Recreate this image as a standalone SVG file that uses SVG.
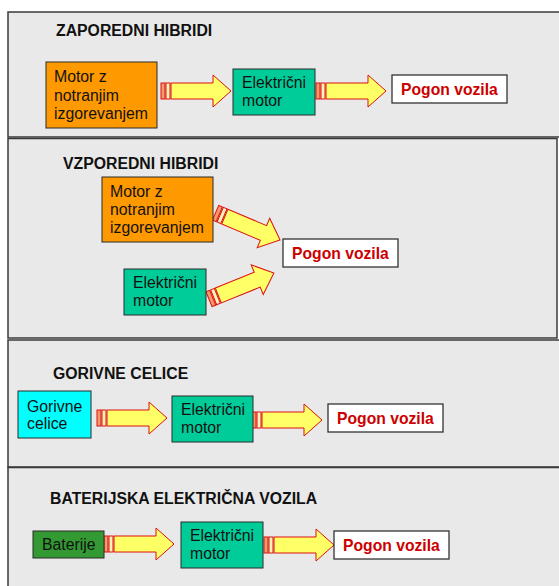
<svg xmlns="http://www.w3.org/2000/svg" xmlns:xlink="http://www.w3.org/1999/xlink" width="559" height="586" viewBox="0 0 559 586">
<style>
.panel{fill:#E9E9E9;stroke:#3a3a3a;stroke-width:1.5}
.box{stroke:#2a2a2a;stroke-width:1}
.t{font-family:"Liberation Sans",Arial,sans-serif;font-size:15.8px;fill:#111}
.title{font-family:"Liberation Sans",Arial,sans-serif;font-size:15.8px;font-weight:bold;fill:#111}
.pv{font-family:"Liberation Sans",Arial,sans-serif;font-size:15.7px;font-weight:bold;fill:#CC0000}
.pbox{fill:#fff;stroke:#333;stroke-width:1.3}
.ab{fill:#FFFF66;stroke:#DD1111;stroke-width:1}
.s1{fill:#F49A6A;stroke:#DD1111;stroke-width:1}
.s2{fill:#FFF3B8;stroke:#DD1111;stroke-width:1}
</style>
<defs>
<g id="arr">
<rect class="s1" x="0" y="-8" width="4" height="16"/>
<rect class="s2" x="5" y="-8" width="4" height="16"/>
<polygon class="ab" points="10,-8 52,-8 52,-16 70,0 52,16 52,8 10,8"/>
</g>
</defs>
<rect width="559" height="586" fill="#fff"/>
<g id="panels">
<rect class="panel" x="8" y="12" width="555" height="125"/>
<rect class="panel" x="8" y="138.5" width="549" height="199.5"/>
<rect class="panel" x="8" y="340" width="555" height="127"/>
<rect class="panel" x="8" y="467.5" width="555" height="125"/>
</g>
<g id="titles">
<text class="title" x="56" y="36">ZAPOREDNI HIBRIDI</text>
<text class="title" x="63" y="169">VZPOREDNI HIBRIDI</text>
<text class="title" x="53" y="379">GORIVNE CELICE</text>
<text class="title" x="50" y="504">BATERIJSKA ELEKTRIČNA VOZILA</text>
</g>
<g id="connectors">
<use xlink:href="#arr" transform="translate(161,91)"/>
<use xlink:href="#arr" transform="translate(316,91)"/>
<use xlink:href="#arr" transform="translate(215.6,212.7) rotate(23)"/>
<use xlink:href="#arr" transform="translate(209,299.2) rotate(-22)"/>
<use xlink:href="#arr" transform="translate(97,418)"/>
<use xlink:href="#arr" transform="translate(252,420)"/>
<use xlink:href="#arr" transform="translate(104,544)"/>
<use xlink:href="#arr" transform="translate(264,545)"/>
</g>
<g id="p1-motor">
<rect class="box" x="46" y="62" width="111" height="66" fill="#FF9900"/>
<text class="t" x="54" y="82">Motor z</text>
<text class="t" x="54" y="100.5">notranjim</text>
<text class="t" x="54" y="119">izgorevanjem</text>
</g>
<g id="p1-emotor">
<rect class="box" x="233" y="69" width="82" height="46" fill="#00CC99"/>
<text class="t" x="242" y="88">Električni</text>
<text class="t" x="242" y="106">motor</text>
</g>
<g id="p1-pogon">
<rect class="pbox" x="392" y="75" width="115" height="28"/>
<text class="pv" x="401" y="95">Pogon vozila</text>
</g>
<g id="p2-motor">
<rect class="box" x="102" y="177" width="111" height="65" fill="#FF9900"/>
<text class="t" x="110" y="197">Motor z</text>
<text class="t" x="110" y="215">notranjim</text>
<text class="t" x="110" y="233">izgorevanjem</text>
</g>
<g id="p2-emotor">
<rect class="box" x="124" y="269" width="82" height="46" fill="#00CC99"/>
<text class="t" x="133" y="288">Električni</text>
<text class="t" x="133" y="306">motor</text>
</g>
<g id="p2-pogon">
<rect class="pbox" x="283" y="239" width="115" height="28"/>
<text class="pv" x="292" y="258.5">Pogon vozila</text>
</g>
<g id="p3-celice">
<rect class="box" x="18" y="391" width="73" height="47" fill="#00FFFF"/>
<text class="t" x="27" y="411.5">Gorivne</text>
<text class="t" x="27" y="429">celice</text>
</g>
<g id="p3-emotor">
<rect class="box" x="172" y="396" width="81" height="46" fill="#00CC99"/>
<text class="t" x="181" y="415">Električni</text>
<text class="t" x="181" y="433">motor</text>
</g>
<g id="p3-pogon">
<rect class="pbox" x="328" y="404" width="115" height="28"/>
<text class="pv" x="337" y="423.5">Pogon vozila</text>
</g>
<g id="p4-baterije">
<rect class="box" x="33" y="531" width="71" height="27" fill="#339933"/>
<text class="t" x="42" y="550">Baterije</text>
</g>
<g id="p4-emotor">
<rect class="box" x="181" y="522" width="82" height="46" fill="#00CC99"/>
<text class="t" x="190" y="541">Električni</text>
<text class="t" x="190" y="559">motor</text>
</g>
<g id="p4-pogon">
<rect class="pbox" x="334" y="531" width="115" height="28"/>
<text class="pv" x="343" y="550.5">Pogon vozila</text>
</g>
</svg>
